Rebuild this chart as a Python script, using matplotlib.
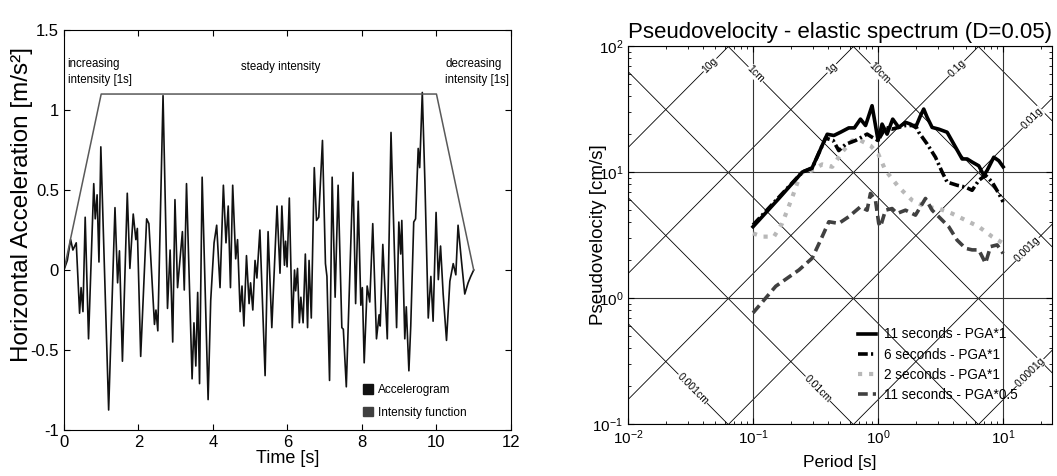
import numpy as np
import matplotlib
matplotlib.use('Agg')
import matplotlib.pyplot as plt
from matplotlib.patches import Patch

plt.rcParams['font.family'] = ['Liberation Sans', 'DejaVu Sans']

# --- accelerogram ---
t_acc = [0.00, 0.09, 0.18, 0.24, 0.33, 0.42, 0.46, 0.51, 0.57, 0.66, 0.80, 0.84, 0.89, 0.94,
         0.99, 1.20, 1.37, 1.44, 1.49, 1.57, 1.70, 1.77, 1.86, 1.93, 1.97, 2.06, 2.22, 2.28,
         2.43, 2.47, 2.52, 2.66, 2.78, 2.85, 2.92, 2.98, 3.05, 3.18, 3.23, 3.29, 3.44, 3.49,
         3.54, 3.59, 3.64, 3.71, 3.87, 3.94, 4.03, 4.10, 4.19, 4.28, 4.35, 4.41, 4.47, 4.53,
         4.61, 4.66, 4.73, 4.78, 4.83, 4.90, 4.97, 5.01, 5.07, 5.13, 5.18, 5.26, 5.40, 5.48,
         5.58, 5.72, 5.80, 5.85, 5.92, 5.95, 5.99, 6.05, 6.13, 6.19, 6.22, 6.27, 6.32, 6.36,
         6.42, 6.48, 6.54, 6.58, 6.64, 6.72, 6.78, 6.84, 6.94, 7.02, 7.06, 7.13, 7.20, 7.28,
         7.36, 7.46, 7.50, 7.58, 7.76, 7.83, 7.90, 7.97, 8.01, 8.06, 8.14, 8.21, 8.29, 8.39,
         8.46, 8.49, 8.56, 8.68, 8.78, 8.93, 8.99, 9.04, 9.07, 9.15, 9.19, 9.26, 9.31, 9.39,
         9.44, 9.51, 9.55, 9.62, 9.69, 9.78, 9.85, 9.91, 9.99, 10.05, 10.11, 10.18, 10.27,
         10.36, 10.45, 10.52, 10.58, 10.67, 10.76, 10.85, 10.92, 11.00]
a_acc = [0.00, 0.06, 0.19, 0.125, 0.17, -0.27, -0.11, -0.26, 0.33, -0.43, 0.54, 0.32, 0.47, 0.05,
         0.77, -0.875, 0.39, -0.08, 0.12, -0.57, 0.48, 0.01, 0.35, 0.19, 0.26, -0.54, 0.32, 0.29,
         -0.34, -0.25, -0.38, 1.09, -0.24, 0.125, -0.45, 0.44, -0.11, 0.24, -0.125, 0.54, -0.68, -0.33,
         -0.60, -0.14, -0.71, 0.58, -0.81, -0.19, 0.17, 0.28, -0.11, 0.53, 0.17, 0.40, -0.11, 0.53,
         0.07, 0.19, -0.26, -0.10, -0.35, 0.09, -0.21, -0.08, -0.25, 0.06, -0.05, 0.25, -0.66, 0.24,
         -0.36, 0.40, -0.02, 0.40, 0.03, 0.18, 0.02, 0.45, -0.36, 0.00, -0.13, 0.01, -0.33, -0.17,
         -0.33, 0.10, -0.36, 0.06, -0.30, 0.64, 0.31, 0.33, 0.81, 0.04, -0.04, -0.69, 0.58, -0.17,
         0.53, -0.36, -0.37, -0.73, 0.61, -0.21, 0.43, -0.22, -0.11, -0.58, -0.10, -0.20, 0.29, -0.43,
         -0.28, -0.35, 0.16, -0.43, 0.86, -0.36, 0.30, 0.10, 0.31, -0.43, -0.23, -0.63, -0.35, 0.30,
         0.32, 0.76, 0.64, 1.11, 0.55, -0.30, -0.04, -0.32, 0.36, -0.06, 0.15, -0.15, -0.44,
         -0.07, 0.04, -0.03, 0.28, 0.06, -0.15, -0.08, -0.04, 0.00]

# intensity function (trapezoid)
t_int = [0, 1, 10, 11]
i_int = [0, 1.1, 1.1, 0]

# --- pseudovelocity spectra ---
T_11 = [0.1, 0.161, 0.248, 0.297, 0.392, 0.443, 0.501, 0.583, 0.646, 0.723, 0.794, 0.895, 1.0,
        1.076, 1.180, 1.309, 1.462, 1.656, 1.816, 1.995, 2.183, 2.317, 2.466, 2.704, 3.055, 3.565,
        4.027, 4.699, 5.152, 5.649, 6.383, 6.998, 7.447, 8.414, 9.226, 10.0]
V_11 = [3.68, 6.17, 10.0, 10.8, 19.95, 19.5, 20.7, 22.4, 22.4, 26.3, 23.4, 33.6, 17.8,
        24.0, 20.0, 26.3, 22.6, 24.8, 24.0, 22.6, 28.0, 31.6, 27.2, 22.6, 21.9, 20.7,
        16.7, 12.7, 12.7, 12.0, 11.2, 9.42, 10.3, 13.1, 12.3, 11.0]

T_6 = [0.1, 0.248, 0.297, 0.380, 0.437, 0.485, 0.550, 0.661, 0.817, 0.895, 1.0, 1.148, 1.294,
       1.656, 1.995, 2.113, 2.466, 2.877, 3.251, 3.565, 4.285, 5.000, 5.649, 6.383, 7.228, 8.166,
       9.226, 10.0]
V_6 = [3.80, 10.0, 10.7, 18.6, 17.8, 14.8, 16.6, 17.8, 20.0, 18.9, 17.8, 22.6, 21.9,
       23.4, 23.4, 20.7, 16.7, 13.1, 10.0, 8.32, 7.85, 7.59, 7.16, 8.59, 9.42, 8.32,
       6.75, 5.79]

T_2 = [0.1, 0.119, 0.147, 0.171, 0.206, 0.240, 0.297, 0.357, 0.430, 0.516, 0.621, 0.723, 0.869,
       1.0, 1.146, 1.462, 1.871, 2.393, 3.055, 3.908, 5.000, 6.383, 8.166, 10.0]
V_2 = [3.26, 3.07, 3.07, 3.91, 6.31, 9.70, 10.3, 11.5, 11.0, 14.4, 17.8, 17.8, 16.2,
       14.0, 10.3, 7.59, 5.97, 5.30, 5.13, 4.68, 4.15, 3.68, 3.07, 2.72]

T_11h = [0.1, 0.152, 0.233, 0.297, 0.347, 0.404, 0.485, 0.583, 0.723, 0.817, 0.869, 0.953, 1.012,
         1.045, 1.146, 1.294, 1.419, 1.656, 1.991, 2.393, 2.704, 3.055, 3.673, 4.285, 5.000, 5.649,
         6.383, 7.228, 7.925, 8.954, 10.0]
V_11h = [0.762, 1.24, 1.67, 2.07, 2.88, 4.03, 3.91, 4.42, 5.30, 4.98, 6.76, 5.97, 3.91,
         3.68, 4.98, 5.13, 4.69, 4.98, 4.55, 6.17, 4.98, 4.42, 3.68, 2.88, 2.48, 2.41,
         2.41, 1.89, 2.56, 2.64, 2.26]

# tripartite grid: acceleration lines [g] and displacement lines [cm]
acc_lines = [10, 1, 0.1, 0.01, 0.001, 0.0001]
acc_labels = ['10g', '1g', '0.1g', '0.01g', '0.001g', '0.0001g']
acc_label_T = [0.0453, 0.427, 4.27, 17.0, 15.6, 16.4]
disp_lines = [0.001, 0.01, 0.1, 1, 10, 100]
disp_labels = ['0.001cm', '0.01cm', None, '1cm', '10cm', None]
disp_label_T = [0.033, 0.33, None, 0.105, 1.03, None]

fig = plt.figure(figsize=(10.57, 4.76), dpi=100)

# ---------------- left: accelerogram ----------------
ax1 = fig.add_axes([0.0605, 0.0966, 0.4229, 0.8403])
ax1.plot(t_acc, a_acc, color='#111111', lw=1.2)
ax1.plot(t_int, i_int, color='0.35', lw=1.1)
ax1.set_xlim(0, 12)
ax1.set_ylim(-1, 1.5)
ax1.set_xticks([0, 2, 4, 6, 8, 10, 12])
ax1.set_yticks([-1, -0.5, 0, 0.5, 1, 1.5])
ax1.set_yticklabels(['-1', '-0.5', '0', '0.5', '1', '1.5'])
ax1.tick_params(direction='in', top=True, right=True, labelsize=12, length=4)
ax1.set_xlabel('Time [s]', fontsize=13)
ax1.xaxis.set_label_coords(0.5, -0.05)
ax1.set_ylabel('Horizontal Acceleration [m/s²]', fontsize=17.5)
ax1.yaxis.set_label_coords(-0.07, 0.565)

ax1.text(0.1, 1.325, 'increasing\nintensity [1s]', fontsize=8.3, va='top', ha='left', linespacing=1.4)
ax1.text(5.83, 1.27, 'steady intensity', fontsize=8.3, va='center', ha='center')
ax1.text(10.23, 1.325, 'decreasing\nintensity [1s]', fontsize=8.3, va='top', ha='left', linespacing=1.4)

h1 = [Patch(facecolor='#111111', edgecolor='#111111', label='Accelerogram'),
      Patch(facecolor='0.25', edgecolor='0.25', label='Intensity function')]
ax1.legend(handles=h1, loc='lower right', bbox_to_anchor=(0.925, 0.002), frameon=False,
           fontsize=8.5, handlelength=0.9, handleheight=0.9, handletextpad=0.4, labelspacing=0.9)

# ---------------- right: pseudovelocity spectrum ----------------
ax2 = fig.add_axes([0.5941, 0.1092, 0.4011, 0.7941])
ax2.set_xscale('log')
ax2.set_yscale('log')
xmin, xmax = 0.01, 10 ** 1.39
ax2.set_xlim(xmin, xmax)
ax2.set_ylim(0.1, 100)

Tg = np.logspace(-2, 1.39, 200)
g = 981.0
for a, lab, tl in zip(acc_lines, acc_labels, acc_label_T):
    ax2.plot(Tg, a * g / (2 * np.pi) * Tg, color='k', lw=0.6, zorder=1)
    ax2.text(tl, a * g / (2 * np.pi) * tl, lab, fontsize=7.5, rotation=45, ha='center', va='center',
             rotation_mode='anchor', zorder=2,
             bbox=dict(facecolor='white', edgecolor='none', pad=0.3))
for d, lab, tl in zip(disp_lines, disp_labels, disp_label_T):
    ax2.plot(Tg, 2 * np.pi * d / Tg, color='k', lw=0.6, zorder=1)
    if lab:
        ax2.text(tl, 2 * np.pi * d / tl, lab, fontsize=7.5, rotation=-45, ha='center', va='center',
                 rotation_mode='anchor', zorder=2,
                 bbox=dict(facecolor='white', edgecolor='none', pad=0.3))

ax2.grid(True, which='major', color='0.2', lw=0.8, zorder=1)

ax2.plot(T_11, V_11, color='k', lw=2.6, ls='-', label='11 seconds - PGA*1', zorder=5)
ax2.plot(T_6, V_6, color='k', lw=2.6, ls='-.', dashes=(2.7, 0.9, 0.6, 0.9),
         label='6 seconds - PGA*1', zorder=5)
ax2.plot(T_2, V_2, color='0.72', lw=3, ls=':', label='2 seconds - PGA*1', zorder=4)
ax2.plot(T_11h, V_11h, color='0.25', lw=2.6, ls='--', dashes=(2.7, 1.4),
         label='11 seconds - PGA*0.5', zorder=4)

ax2.tick_params(which='both', direction='in', top=True, right=True, labelsize=11)
ax2.tick_params(which='major', length=4)
ax2.tick_params(which='minor', length=2)
ax2.set_xlabel('Period [s]', fontsize=12.5)
ax2.xaxis.set_label_coords(0.5, -0.082)
ax2.set_ylabel('Pseudovelocity [cm/s]', fontsize=13.5)
ax2.yaxis.set_label_coords(-0.05, 0.5)
ax2.set_title('Pseudovelocity - elastic spectrum (D=0.05)', fontsize=16)

ax2.legend(loc='upper left', bbox_to_anchor=(0.53, 0.27), frameon=False, fontsize=9.8,
           handlelength=1.35, handletextpad=0.55, labelspacing=0.45, borderaxespad=0)

fig.savefig('out.png', dpi=100)
